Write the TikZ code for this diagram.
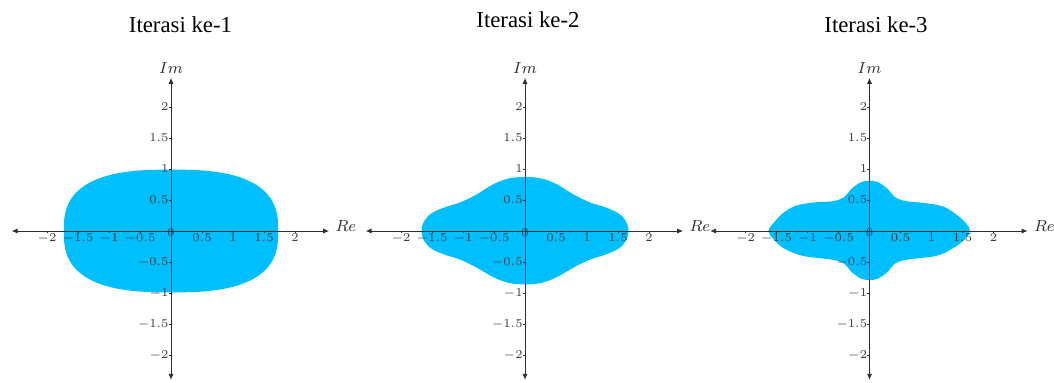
\documentclass[tikz,border=0pt]{standalone}
\usepackage{fontspec}
\usepackage{tikz}
\usetikzlibrary{arrows.meta}
\newfontfamily\judulfont{Liberation Serif}
\definecolor{isian}{HTML}{00BFFF}
\definecolor{garis}{HTML}{2E2E2E}
\definecolor{angka}{HTML}{3A3A3A}
\tikzset{
  wilayah/.style={fill=isian,draw=none},
  sumbu/.style={{Latex[length=3pt,width=2.6pt]}-{Latex[length=3pt,width=2.6pt]},draw=garis,line width=0.45pt},
  tik/.style={draw=garis,line width=0.3pt},
  lblx/.style={anchor=north,inner sep=0.7pt,font=\fontsize{6}{7}\selectfont,text=angka},
  lbly/.style={anchor=east,inner sep=0.7pt,font=\fontsize{6}{7}\selectfont,text=angka},
  namasumbu/.style={font=\fontsize{8}{9}\selectfont,text=garis,inner sep=0pt},
  judul/.style={font=\judulfont\fontsize{11.4}{14}\selectfont,inner sep=0pt}
}
% sumbu Re dan Im dengan angka-angkanya
\newcommand{\bidangkompleks}[1]{%
  \coordinate (#1kiri) at (-2.57,0);
  \coordinate (#1kanan) at (2.55,0);
  \coordinate (#1atas) at (0,2.47);
  \coordinate (#1bawah) at (0,-2.40);
  \draw[sumbu] (#1kiri) -- (#1kanan);
  \draw[sumbu] (#1bawah) -- (#1atas);
  \foreach \v [count=\i] in {-2,-1.5,-1,-0.5,0.5,1,1.5,2}{
    \draw[tik] (\v,0) -- (\v,-0.04);
    \node[lblx] (#1x\i) at (\v,-0.01) {$\v$};
    \draw[tik] (0,\v) -- (-0.04,\v);
    \node[lbly] (#1y\i) at (-0.01,\v) {$\v$};
  }
  \node[font=\fontsize{6}{7}\selectfont,text=angka,inner sep=0pt] (#1nol) at (0,-0.02) {$0$};
  \node[namasumbu,anchor=base west,xshift=3pt] (#1re) at (#1kanan) {$Re$};
  \node[namasumbu,anchor=base,yshift=2pt] (#1im) at (#1atas) {$Im$};
}

\begin{document}
\begin{tikzpicture}[x=0.5pt,y=0.5pt]
  \useasboundingbox (0,0) rectangle (1054,382);

  \node[judul] (judul1) at (180.5,357) {Iterasi ke-1};
  \node[judul] (judul2) at (528,362) {Iterasi ke-2};
  \node[judul] (judul3) at (876,357) {Iterasi ke-3};

  % iterasi ke-1
  \begin{scope}[shift={(171,151)},x=31pt,y=31pt]
    \fill[wilayah] plot[domain=0:360,samples=181,smooth]
      (\x:{1/(((abs(cos(\x))+0.0001)/1.73)^2.7+((abs(sin(\x))+0.0001)/0.99)^2.7)^(1/2.7)}) -- cycle;
    \bidangkompleks{a}
  \end{scope}

  % iterasi ke-2
  \begin{scope}[shift={(525,151)},x=31pt,y=31pt]
    \fill[wilayah] plot[smooth cycle,tension=0.6] coordinates {
      (1.67,0) (1.62,0.17) (1.5,0.29) (1.3,0.38) (1.05,0.46) (0.8,0.58) (0.5,0.76) (0.25,0.85)
      (0,0.87) (-0.25,0.85) (-0.5,0.76) (-0.8,0.58) (-1.05,0.46) (-1.3,0.38) (-1.5,0.29) (-1.62,0.17)
      (-1.67,0) (-1.62,-0.17) (-1.5,-0.29) (-1.3,-0.38) (-1.05,-0.46) (-0.8,-0.58) (-0.5,-0.75) (-0.25,-0.84)
      (0,-0.86) (0.25,-0.84) (0.5,-0.75) (0.8,-0.58) (1.05,-0.46) (1.3,-0.38) (1.5,-0.29) (1.62,-0.17)};
    \bidangkompleks{b}
  \end{scope}

  % iterasi ke-3
  \begin{scope}[shift={(869.5,151)},x=31pt,y=31pt]
    \fill[wilayah] plot[smooth cycle,tension=0.6] coordinates {
      (1.62,0) (1.56,0.12) (1.42,0.25) (1.2,0.39) (0.9,0.45) (0.6,0.48) (0.42,0.54) (0.28,0.69) (0.13,0.79)
      (0,0.81) (-0.13,0.79) (-0.28,0.69) (-0.42,0.54) (-0.6,0.48) (-0.9,0.46) (-1.18,0.41) (-1.38,0.3) (-1.53,0.15)
      (-1.63,0) (-1.55,-0.13) (-1.38,-0.28) (-1.08,-0.40) (-0.62,-0.46) (-0.42,-0.52) (-0.28,-0.67) (-0.13,-0.77)
      (0,-0.79) (0.13,-0.77) (0.28,-0.67) (0.42,-0.52) (0.62,-0.46) (1.08,-0.40) (1.36,-0.27) (1.54,-0.13)};
    \bidangkompleks{c}
  \end{scope}
\end{tikzpicture}
\end{document}
